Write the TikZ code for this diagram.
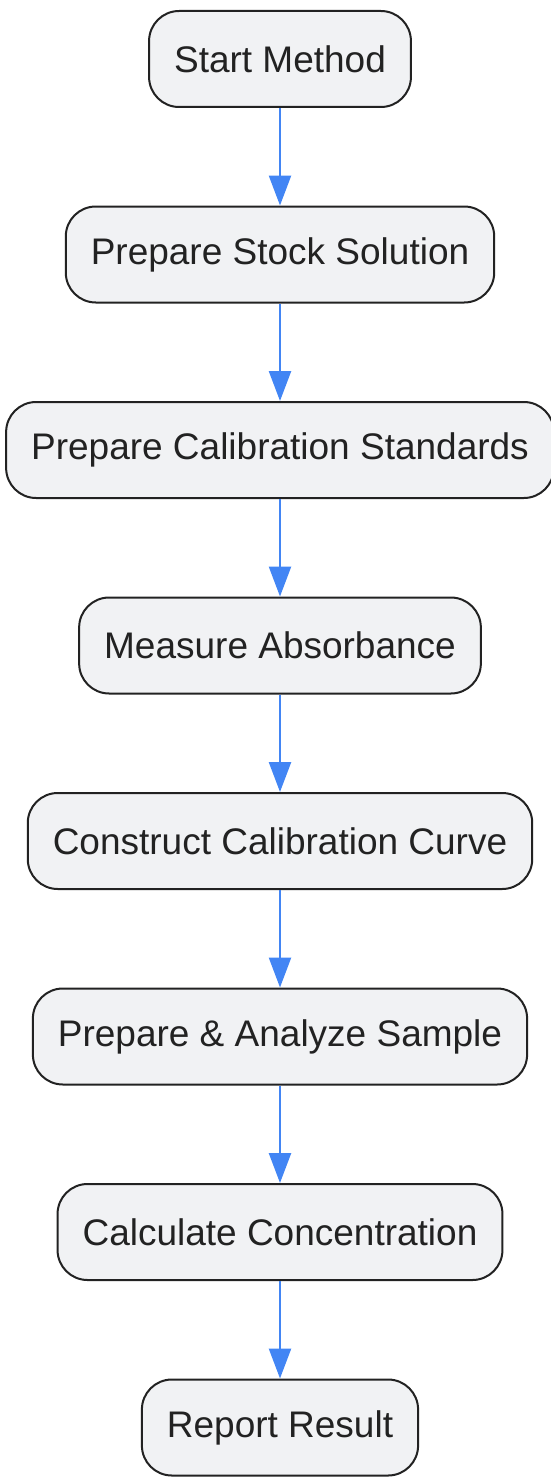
\documentclass[tikz,border=0pt]{standalone}
\usepackage{fontspec}
\setmainfont{Liberation Sans}
\usetikzlibrary{positioning, arrows.meta}
\definecolor{stepfill}{HTML}{F1F2F4}
\definecolor{stepline}{HTML}{222222}
\definecolor{flowblue}{HTML}{4285F4}

\begin{document}
\begin{tikzpicture}[x=1pt, y=1pt,
        stepbox/.style={draw=stepline, line width=2pt, fill=stepfill, rounded corners=30pt,
            minimum height=96pt, inner xsep=25pt, text=stepline,
            font=\fontsize{37}{44}\selectfont},
        flow/.style={draw=flowblue, line width=2.5pt, -{Triangle[width=22pt, length=30pt]}},
        node distance=97.5pt]
    \useasboundingbox (0,0) rectangle (550,-1477);

    \node[stepbox] (S1) at (280,-59) {Start Method};
    \node[stepbox, below=of S1] (S2) {Prepare Stock Solution};
    \node[stepbox, below=of S2] (S3) {Prepare Calibration Standards};
    \node[stepbox, below=of S3] (S4) {Measure Absorbance};
    \node[stepbox, below=of S4] (S5) {Construct Calibration Curve};
    \node[stepbox, below=of S5] (S6) {Prepare \& Analyze Sample};
    \node[stepbox, below=of S6] (S7) {Calculate Concentration};
    \node[stepbox, below=of S7] (S8) {Report Result};

    \draw [flow] (S1) -- (S2);
    \draw [flow] (S2) -- (S3);
    \draw [flow] (S3) -- (S4);
    \draw [flow] (S4) -- (S5);
    \draw [flow] (S5) -- (S6);
    \draw [flow] (S6) -- (S7);
    \draw [flow] (S7) -- (S8);
\end{tikzpicture}
\end{document}
